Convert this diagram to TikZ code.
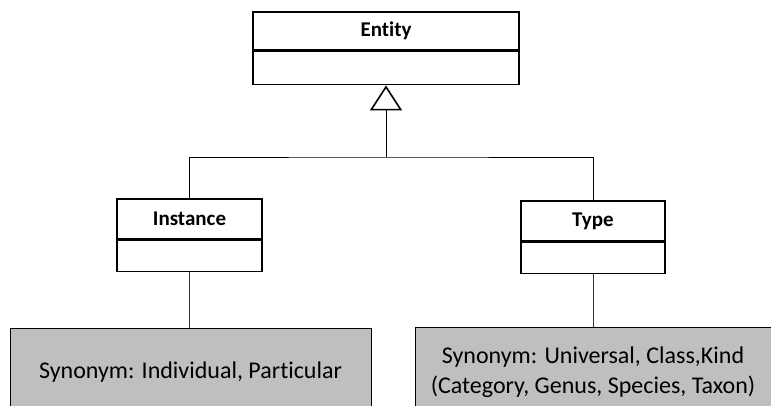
\documentclass[tikz,border=0pt]{standalone}
\usepackage{fontspec}
\setmainfont[Ligatures=NoCommon]{Carlito}
\usetikzlibrary{arrows.meta}
\definecolor{notegray}{RGB}{191,191,191}
\tikzset{
  classname/.style={draw, line width=1.6pt, fill=white, inner sep=0pt,
    font=\bfseries\fontsize{21}{24}\selectfont},
  classbody/.style={draw, line width=1.6pt, fill=white, inner sep=0pt},
  note/.style={draw, line width=0.8pt, fill=notegray, inner sep=0pt},
  notetext/.style={anchor=center, align=center, inner sep=0pt,
    font=\fontsize{24}{30}\selectfont},
  link/.style={line width=1pt},
  thinlink/.style={line width=0.8pt, draw=black!80},
}
\begin{document}
\begin{tikzpicture}[x=1pt,y=-1pt]
\useasboundingbox (0,0) rectangle (771,405);
\clip (0,0) rectangle (771,405);
% Entity class
\node[classname, minimum width=266pt, minimum height=38pt] (entity) at (386,31) {Entity};
\node[classbody, minimum width=266pt, minimum height=33pt, anchor=north] (entityb) at (entity.south) {};
% Instance class
\node[classname, minimum width=145pt, minimum height=40pt] (instance) at (189.5,219) {Instance};
\node[classbody, minimum width=145pt, minimum height=31pt, anchor=north] (instanceb) at (instance.south) {};
% Type class
\node[classname, minimum width=144pt, minimum height=40pt] (type) at (593,221) {Type};
\node[classbody, minimum width=144pt, minimum height=31pt, anchor=north] (typeb) at (type.south) {};
% Notes (run past the lower edge)
\node[note, minimum width=361pt, minimum height=92pt, anchor=north] (inote) at (190.5,328) {};
\node[notetext] (itext) at (190.5,372) {Synonym: Individual, Particular};
\node[note, minimum width=360pt, minimum height=92pt, anchor=north] (tnote) at (595,327) {};
\node[notetext] (ttext) at (593,372)
  {Synonym: Universal, Class,Kind\\(Category, Genus, Species, Taxon)};
% Generalisation
\coordinate (bar) at (386,157);
\draw[link] (instance.north) |- (bar) -| (type.north);
\draw[link, -{Triangle[open, length=25pt, width=32pt, line width=1.6pt]}] (bar) -- (entityb.south);
% Note links
\draw[thinlink] (instanceb.south) -- (instanceb.south |- inote.north);
\draw[thinlink] (typeb.south) -- (typeb.south |- tnote.north);
\end{tikzpicture}
\end{document}
